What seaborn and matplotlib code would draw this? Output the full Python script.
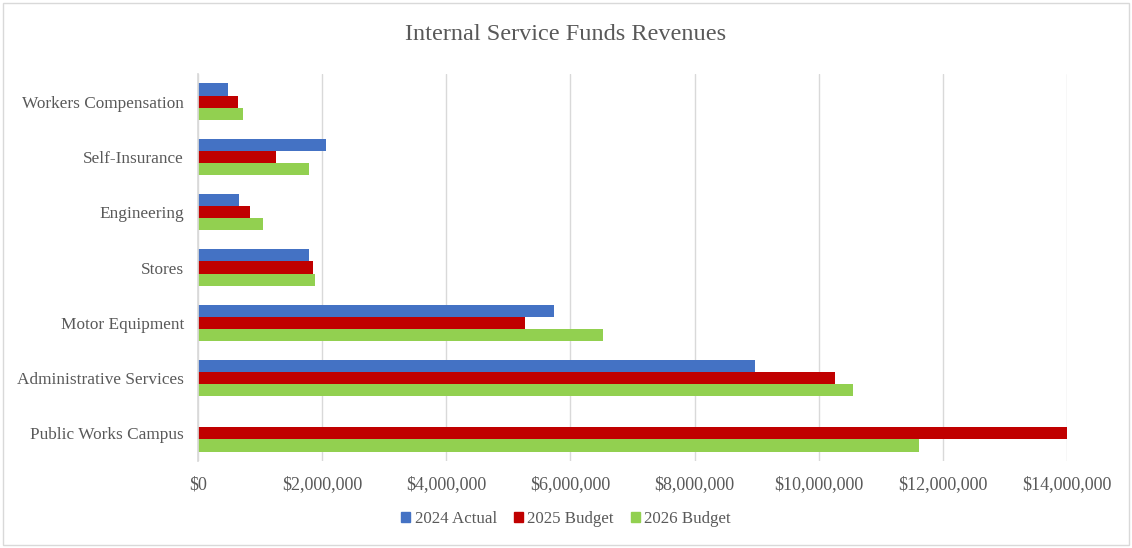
import matplotlib
matplotlib.use("Agg")
import matplotlib.pyplot as plt
import seaborn as sns
import pandas as pd
from matplotlib.ticker import FuncFormatter
from matplotlib.patches import Rectangle

categories = ["Workers Compensation", "Self-Insurance", "Engineering", "Stores",
              "Motor Equipment", "Administrative Services", "Public Works Campus"]
series = ["2024 Actual", "2025 Budget", "2026 Budget"]
actual_2024 = [480000, 2060000, 660000, 1790000, 5740000, 8970000, 0]
budget_2025 = [640000, 1260000, 840000, 1850000, 5270000, 10260000, 14000000]
budget_2026 = [720000, 1790000, 1050000, 1880000, 6520000, 10550000, 11620000]
colors = ["#4472C4", "#C00000", "#92D050"]

rows = []
for s, vals in zip(series, [actual_2024, budget_2025, budget_2026]):
    for c, v in zip(categories, vals):
        rows.append({"Category": c, "Series": s, "Value": v})
df = pd.DataFrame(rows)

sns.set_theme(style="white")
plt.rcParams["font.family"] = ["Liberation Serif", "DejaVu Serif"]
text_color = "#595959"

fig = plt.figure(figsize=(11.32, 5.48), dpi=100)
ax = fig.add_axes([198/1132, 1 - 461/548, (1067-198)/1132, (461-74)/548])

sns.barplot(data=df, y="Category", x="Value", hue="Series", order=categories,
            hue_order=series, palette=colors, orient="h", width=0.66,
            saturation=1, linewidth=0, ax=ax, legend=True)

ax.set_xlim(0, 14000000)
ax.set_xticks(range(0, 14000001, 2000000))
ax.xaxis.set_major_formatter(FuncFormatter(lambda v, p: f"${v:,.0f}"))
ax.grid(axis="x", color="#D9D9D9", linewidth=1)
ax.set_axisbelow(True)
for s in ["top", "right", "bottom"]:
    ax.spines[s].set_visible(False)
ax.spines["left"].set_color("#D9D9D9")
ax.set_xlabel("")
ax.set_ylabel("")
ax.tick_params(axis="both", length=0, colors=text_color)
ax.tick_params(axis="x", pad=11, labelsize=13)
ax.tick_params(axis="y", pad=10, labelsize=12.4)

ax.legend_.remove()
handles = [Rectangle((0, 0), 1, 1, color=c) for c in colors]
fig.legend(handles, series, loc="center", bbox_to_anchor=(0.5, 1 - 519/548),
           ncol=3, frameon=False, fontsize=12.2, handlelength=0.55, handleheight=0.55,
           handletextpad=0.25, columnspacing=1.0, labelcolor=text_color)

fig.text(0.5, 1 - 35/548, "Internal Service Funds Revenues", ha="center", va="center",
         fontsize=17.5, color=text_color)

fig.patches.append(Rectangle((3/1132, 3/548), 1 - 6/1132, 1 - 6/548, transform=fig.transFigure,
                             fill=False, edgecolor="#D9D9D9", linewidth=1))

fig.savefig("out.png", dpi=100)
